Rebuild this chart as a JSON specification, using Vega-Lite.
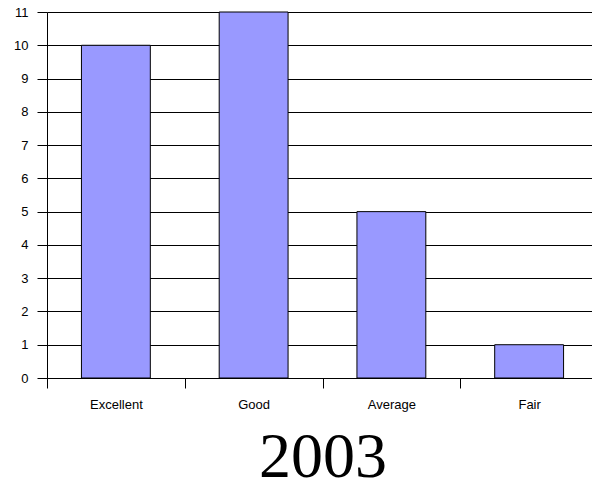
{
  "$schema": "https://vega.github.io/schema/vega-lite/v6.json",
  "autosize": "none",
  "width": 545,
  "height": 366,
  "padding": {"left": 47, "top": 12, "right": 0, "bottom": 109},
  "background": "white",
  "data": {"values": [
    {"rating": "Excellent", "count": 10},
    {"rating": "Good", "count": 11},
    {"rating": "Average", "count": 5},
    {"rating": "Fair", "count": 1}
  ]},
  "config": {"view": {"stroke": null}},
  "mark": {"type": "bar", "fill": "#9999FF", "stroke": "black", "strokeWidth": 1, "width": {"band": 0.5}},
  "encoding": {
    "x": {
      "field": "rating", "type": "nominal", "sort": null,
      "scale": {"range": [0, 551], "paddingInner": 0, "paddingOuter": 0},
      "axis": {
        "title": "2003", "titleFont": "Liberation Serif", "titleFontSize": 64, "titleFontWeight": "normal", "titleColor": "black", "titlePadding": 14,
        "labelAngle": 0, "labelFont": "Liberation Sans", "labelFontSize": 13, "labelColor": "black", "labelPadding": 10,
        "tickBand": "extent", "tickSize": 10, "tickColor": "black", "domainColor": "black", "grid": false
      }
    },
    "y": {
      "field": "count", "type": "quantitative",
      "scale": {"domain": [0, 11], "nice": false},
      "axis": {
        "title": null, "values": [0,1,2,3,4,5,6,7,8,9,10,11],
        "labelFont": "Liberation Sans", "labelFontSize": 13, "labelColor": "black", "labelPadding": 9,
        "tickSize": 10, "tickColor": "black", "domainColor": "black",
        "grid": true, "gridColor": "black", "gridOpacity": 1, "gridWidth": 1
      }
    }
  }
}
